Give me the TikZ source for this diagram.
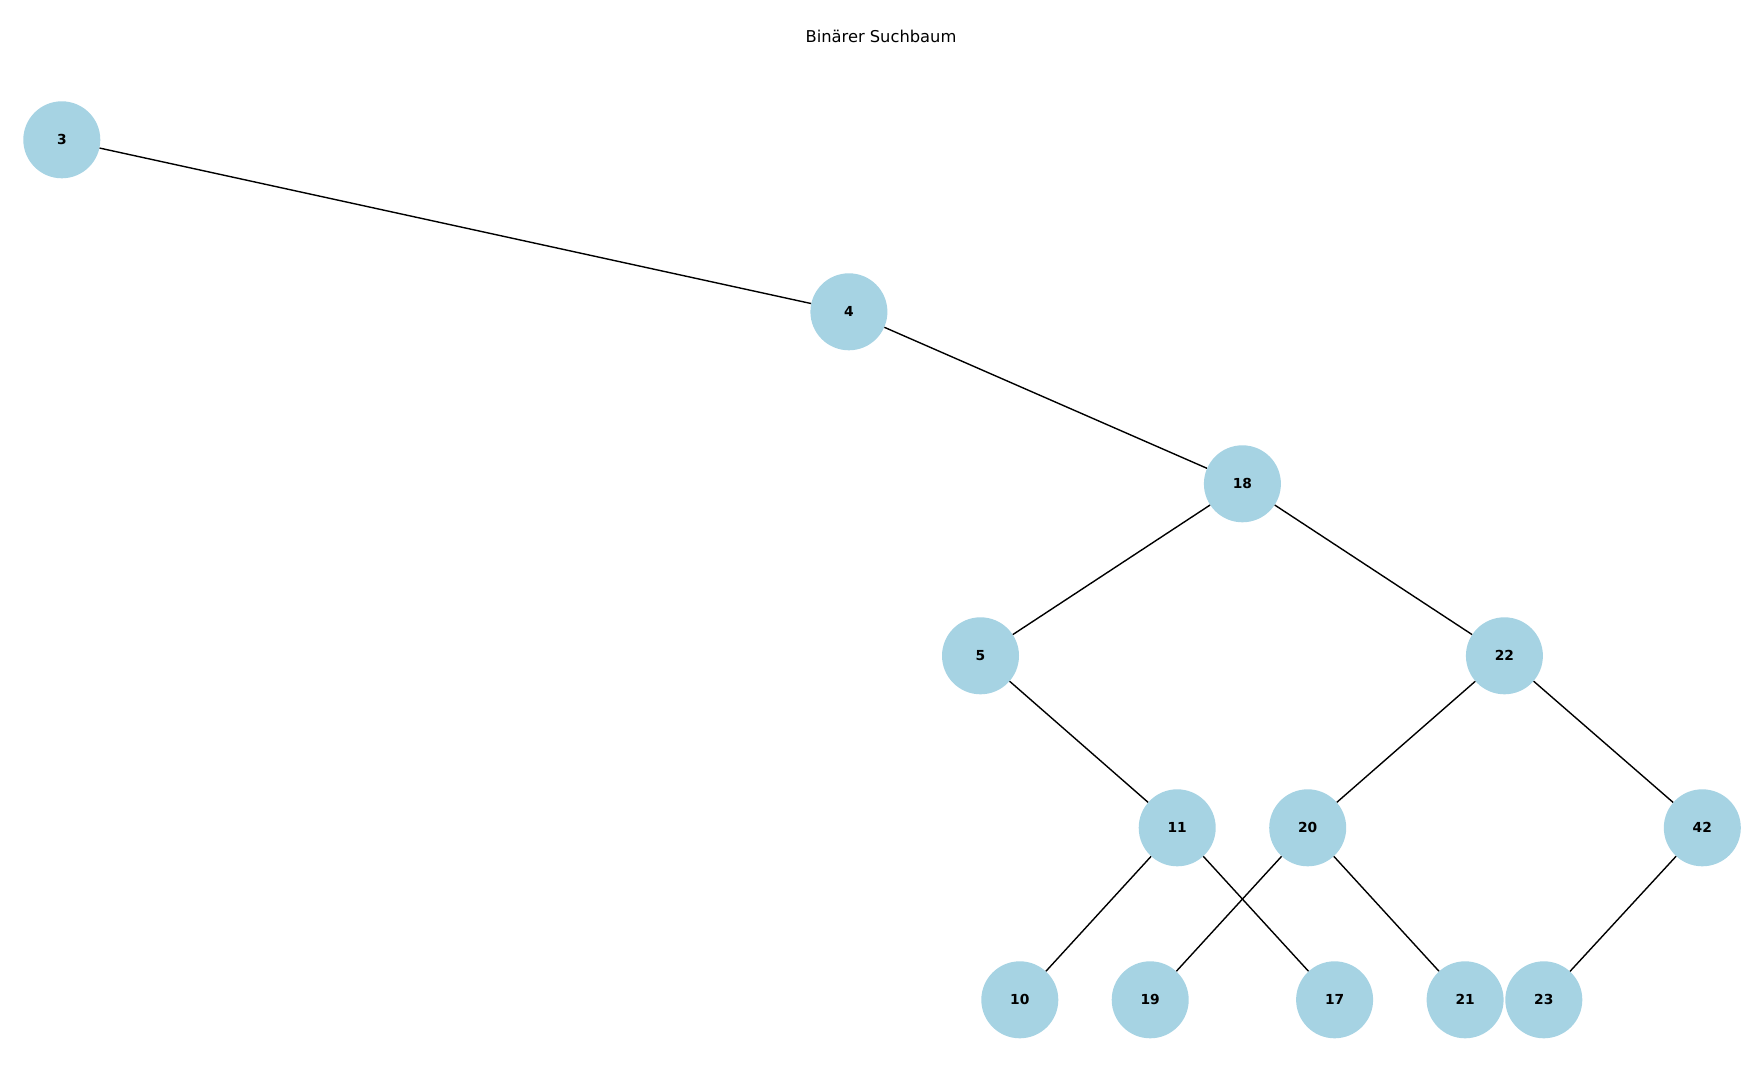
\documentclass[tikz,border=0pt]{standalone}
\usepackage{fontspec}
\setmainfont{DejaVu Sans}
\usetikzlibrary{calc}
\definecolor{nodeblue}{HTML}{A6D3E3}

\begin{document}
\begin{tikzpicture}[x=1pt,y=-1pt,every node/.style={shape=circle,fill=nodeblue,inner sep=0pt,minimum size=77pt,font=\fontsize{13.8}{15}\selectfont\bfseries}]
  \useasboundingbox (0,0) rectangle (1763,1075);
  \node[fill=none,minimum size=0pt,anchor=base,font=\fontsize{16.3}{18}\selectfont] (title) at (881,42.3) {Binärer Suchbaum};
  \path (61.8,139.8) node (n3) {3} (848.9,311.8) node (n4) {4} (1242.4,483.8) node (n18) {18}
  (980.5,655.8) node (n5) {5} (1504.4,655.8) node (n22) {22}
  (1177.2,827.8) node (n11) {11} (1307.7,827.8) node (n20) {20} (1702.3,827.8) node (n42) {42}
  (1019.8,999.8) node (n10) {10} (1150.2,999.8) node (n19) {19} (1334.6,999.8) node (n17) {17}
  (1465.1,999.8) node (n21) {21} (1543.8,999.8) node (n23) {23};
  \draw[line width=1.4pt] (n3) -- (n4) -- (n18) -- (n5) -- (n11) -- (n10);
  \draw[line width=1.4pt] (n11) -- (n17);
  \draw[line width=1.4pt] (n18) -- (n22) -- (n20) -- (n19);
  \draw[line width=1.4pt] (n20) -- (n21);
  \draw[line width=1.4pt] (n22) -- (n42) -- (n23);
  \end{tikzpicture}
\end{document}
